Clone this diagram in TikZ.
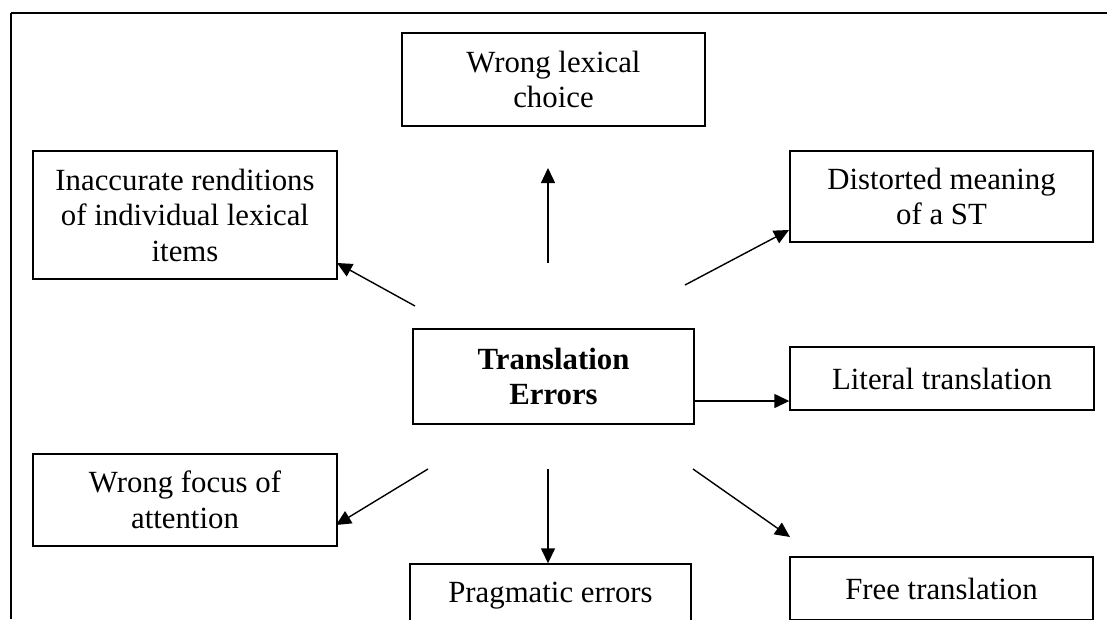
\documentclass[tikz,border=0pt]{standalone}
\usepackage{fontspec}
\setmainfont{Liberation Serif}
\usetikzlibrary{arrows.meta}
\tikzset{
  box/.style={draw, line width=1.4pt, inner sep=0pt, align=center,
    font=\fontsize{30.8}{35.5}\selectfont},
  conn/.style={line width=1.4pt, -{Triangle[length=15pt,width=14pt]}},
  frame/.style={line width=1.6pt}
}
\begin{document}
\begin{tikzpicture}[x=1pt,y=-1pt]
\useasboundingbox (0,0) rectangle (1107,619);
% outer frame (top and left sides visible)
\draw[frame] (11,13) -- (1107,13);
\draw[frame] (11,13) -- (11,619);
\begin{scope}
\clip (0,0) rectangle (1107,619);
\node[box, minimum width=303pt, minimum height=93pt] (lex) at (553.5,79.5) {Wrong lexical\\choice};
\node[box, minimum width=304pt, minimum height=128pt] (inacc) at (185,215) {Inaccurate renditions\\of individual lexical\\items};
\node[box, minimum width=303pt, minimum height=91pt] (dist) at (941.5,196.5) {Distorted meaning\\of a ST};
\node[box, minimum width=281pt, minimum height=95pt, font=\fontsize{30.8}{35.5}\selectfont\bfseries] (te) at (553.5,376.5) {Translation\\Errors};
\node[box, minimum width=304pt, minimum height=63pt] (lit) at (942,378.5) {Literal translation};
\node[box, minimum width=304pt, minimum height=92pt] (focus) at (185,500) {Wrong focus of\\attention};
\node[box, minimum width=281pt, minimum height=63pt] (prag) at (550.5,595.5) {Pragmatic errors};
\node[box, minimum width=303pt, minimum height=63pt] (free) at (941.5,588.5) {Free translation};
\end{scope}
% connector end points
\coordinate (upT) at (548,263);
\coordinate (upH) at (548,168);
\coordinate (inT) at (415,306);
\coordinate (inH) at (337,263);
\coordinate (diT) at (685,285);
\coordinate (diH) at (789,230);
\coordinate (liT) at (694,401);
\coordinate (foT) at (428,469);
\coordinate (foH) at (336,525);
\coordinate (dnT) at (548,469);
\coordinate (frT) at (693,469);
\coordinate (frH) at (790,537);
\draw[conn] (upT) -- (upH);
\draw[conn] (inT) -- (inH);
\draw[conn] (diT) -- (diH);
\draw[conn] (liT) -- (lit.west |- liT);
\draw[conn] (foT) -- (foH);
\draw[conn] (dnT) -- (dnT |- prag.north);
\draw[conn] (frT) -- (frH);
\end{tikzpicture}
\end{document}
